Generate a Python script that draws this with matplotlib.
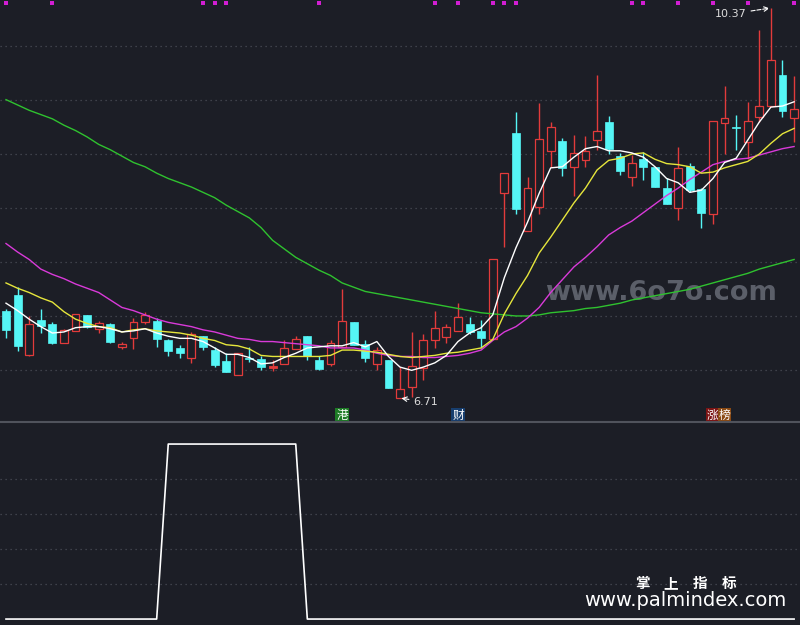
import matplotlib
matplotlib.use("Agg")
import matplotlib.pyplot as plt
from matplotlib.patches import Rectangle
from matplotlib.lines import Line2D
import matplotlib.transforms as mtransforms

plt.rcParams['font.family'] = ['DejaVu Sans', 'Noto Sans CJK SC']

# ---------------- data ----------------
opens = [7.53, 7.68, 7.11, 7.44, 7.40, 7.23, 7.34, 7.49, 7.36, 7.40,
         7.19, 7.27, 7.42, 7.43, 7.25, 7.18, 7.09, 7.29, 7.16, 7.06,
         6.93, 7.09, 7.08, 7.00, 7.03, 7.17, 7.29, 7.07, 7.03, 7.19,
         7.42, 7.22, 7.03, 7.07, 6.71, 6.81, 6.99, 7.25, 7.28, 7.34,
         7.40, 7.34, 7.26, 8.63, 9.20, 8.28, 8.50, 9.03, 9.12, 8.88,
         8.94, 9.13, 9.30, 8.98, 8.78, 8.95, 8.88, 8.68, 8.49, 8.89,
         8.67, 8.44, 9.29, 9.25, 9.11, 9.35, 9.45, 9.74, 9.34]
closes = [7.35, 7.20, 7.40, 7.39, 7.23, 7.35, 7.50, 7.38, 7.41, 7.24,
          7.22, 7.42, 7.49, 7.26, 7.15, 7.13, 7.31, 7.19, 7.02, 6.95,
          7.13, 7.08, 7.00, 7.00, 7.18, 7.26, 7.10, 6.98, 7.23, 7.43,
          7.21, 7.09, 7.16, 6.80, 6.79, 7.01, 7.25, 7.37, 7.38, 7.47,
          7.33, 7.27, 8.01, 8.82, 8.48, 8.68, 9.14, 9.25, 8.87, 9.01,
          9.03, 9.22, 9.05, 8.84, 8.92, 8.88, 8.69, 8.53, 8.87, 8.66,
          8.45, 9.31, 9.34, 9.24, 9.31, 9.45, 9.88, 9.40, 9.42]
highs = [7.55, 7.75, 7.48, 7.55, 7.42, 7.36, 7.50, 7.49, 7.43, 7.41,
         7.24, 7.46, 7.52, 7.46, 7.26, 7.21, 7.33, 7.29, 7.19, 7.13,
         7.13, 7.19, 7.10, 7.07, 7.25, 7.29, 7.29, 7.10, 7.25, 7.73,
         7.42, 7.25, 7.19, 7.07, 7.00, 7.33, 7.31, 7.53, 7.40, 7.60,
         7.47, 7.44, 8.01, 8.82, 9.39, 8.78, 9.48, 9.30, 9.15, 9.18,
         9.17, 9.74, 9.36, 9.01, 8.99, 9.02, 8.88, 8.77, 9.07, 8.92,
         8.68, 9.31, 9.64, 9.37, 9.49, 10.16, 10.37, 9.88, 9.73]
lows = [7.27, 7.15, 7.10, 7.32, 7.22, 7.23, 7.34, 7.37, 7.32, 7.23,
        7.17, 7.17, 7.40, 7.19, 7.10, 7.09, 7.04, 7.16, 7.00, 6.95,
        6.93, 7.05, 6.97, 6.96, 7.03, 7.17, 7.07, 6.97, 7.01, 7.19,
        7.21, 7.05, 6.97, 6.80, 6.71, 6.72, 6.88, 7.18, 7.23, 7.34,
        7.31, 7.18, 7.26, 8.13, 8.44, 8.28, 8.44, 8.88, 8.79, 8.61,
        8.88, 9.04, 9.00, 8.80, 8.70, 8.76, 8.69, 8.53, 8.38, 8.64,
        8.31, 8.34, 9.00, 9.04, 8.95, 9.30, 9.45, 9.35, 9.11]

ma5 = [7.60, 7.53, 7.45, 7.38, 7.32, 7.33, 7.37, 7.38, 7.38, 7.36,
       7.33, 7.34, 7.36, 7.32, 7.29, 7.27, 7.27, 7.24, 7.18, 7.12,
       7.12, 7.09, 7.03, 7.04, 7.09, 7.13, 7.18, 7.19, 7.20, 7.20,
       7.23, 7.19, 7.24, 7.10, 7.00, 6.97, 7.00, 7.04, 7.11, 7.24,
       7.32, 7.37, 7.49, 7.84, 8.12, 8.36, 8.63, 8.87, 8.88, 8.97,
       9.05, 9.07, 9.03, 9.03, 9.01, 8.97, 8.88, 8.77, 8.73, 8.64,
       8.66, 8.77, 8.92, 8.96, 9.13, 9.30, 9.44, 9.45, 9.49]
ma10 = [7.79, 7.74, 7.70, 7.65, 7.61, 7.52, 7.45, 7.41, 7.38, 7.37,
        7.33, 7.35, 7.36, 7.34, 7.33, 7.32, 7.30, 7.27, 7.25, 7.21,
        7.20, 7.17, 7.11, 7.10, 7.10, 7.10, 7.10, 7.10, 7.11, 7.16,
        7.16, 7.15, 7.14, 7.12, 7.10, 7.09, 7.10, 7.11, 7.13, 7.14,
        7.16, 7.18, 7.26, 7.50, 7.69, 7.86, 8.07, 8.22, 8.38, 8.54,
        8.68, 8.85, 8.94, 8.96, 9.00, 9.01, 8.95, 8.91, 8.90, 8.88,
        8.82, 8.83, 8.87, 8.90, 8.93, 9.00, 9.10, 9.19, 9.24]
ma20 = [8.16, 8.08, 8.01, 7.92, 7.87, 7.83, 7.78, 7.74, 7.70, 7.63,
        7.56, 7.53, 7.49, 7.45, 7.42, 7.40, 7.38, 7.35, 7.33, 7.30,
        7.27, 7.26, 7.24, 7.24, 7.23, 7.22, 7.21, 7.20, 7.18, 7.18,
        7.18, 7.16, 7.13, 7.11, 7.10, 7.10, 7.09, 7.09, 7.10, 7.11,
        7.13, 7.16, 7.25, 7.33, 7.38, 7.46, 7.56, 7.70, 7.82, 7.94,
        8.03, 8.13, 8.24, 8.31, 8.37, 8.45, 8.53, 8.61, 8.68, 8.76,
        8.83, 8.90, 8.93, 8.95, 8.96, 8.99, 9.02, 9.05, 9.07]
ma60 = [9.51, 9.46, 9.41, 9.37, 9.33, 9.27, 9.22, 9.16, 9.09, 9.04,
        8.98, 8.92, 8.88, 8.82, 8.77, 8.73, 8.69, 8.64, 8.59, 8.52,
        8.46, 8.40, 8.31, 8.19, 8.11, 8.03, 7.97, 7.91, 7.86, 7.79,
        7.75, 7.71, 7.69, 7.67, 7.65, 7.63, 7.61, 7.59, 7.57, 7.55,
        7.53, 7.51, 7.50, 7.49, 7.48, 7.48, 7.49, 7.51, 7.52, 7.53,
        7.55, 7.56, 7.58, 7.60, 7.63, 7.65, 7.67, 7.69, 7.71, 7.73,
        7.76, 7.79, 7.82, 7.85, 7.88, 7.92, 7.95, 7.98, 8.01]

signal = [0, 0, 0, 0, 0, 0, 0, 0, 0, 0,
          0, 0, 0, 0, 1, 1, 1, 1, 1, 1,
          1, 1, 1, 1, 1, 1, 0, 0, 0, 0,
          0, 0, 0, 0, 0, 0, 0, 0, 0, 0,
          0, 0, 0, 0, 0, 0, 0, 0, 0, 0,
          0, 0, 0, 0, 0, 0, 0, 0, 0, 0,
          0, 0, 0, 0, 0, 0, 0, 0, 0]

marker_idx = [0, 4, 17, 18, 19, 27, 37, 39, 42, 43, 44, 54, 55, 58, 61, 64, 68]

event_idx = [29, 39, 61, 62]
event_text = ['港', '财', '涨', '榜']
event_bg = ['#1d7a25', '#173e6e', '#7c1414', '#8a4a14']

grid_main = [10.014, 9.507, 9.000, 8.493, 7.986, 7.480, 6.973]
grid_sub = [0.2, 0.4, 0.6, 0.8]

brand_chars = ['掌', '上', '指', '标']

# ---------------- style ----------------
BG = '#1c1e26'
RED = '#e23b3b'
CYAN = '#55f6f6'
GRID = '#4a4d57'

fig = plt.figure(figsize=(8, 6.25), dpi=100, facecolor=BG)
ax = fig.add_axes([0, 203 / 625, 1, 422 / 625])
ax2 = fig.add_axes([0, 0, 1, 203 / 625])
for a in (ax, ax2):
    a.set_facecolor(BG)
    for s in a.spines.values():
        s.set_visible(False)
    a.set_xticks([])
    a.set_yticks([])

n = len(opens)
ax.set_xlim(-0.518, 68.51)
ax.set_ylim(6.485, 10.445)
ax2.set_xlim(-0.518, 68.51)
ax2.set_ylim(-0.034, 1.126)

for g in grid_main:
    ax.axhline(g, color=GRID, lw=0.9, ls=(0, (1, 3)), zorder=0)
for g in grid_sub:
    ax2.axhline(g, color=GRID, lw=0.9, ls=(0, (1, 3)), zorder=0)

w = 0.68
LW = 1.0
for i in range(n):
    o, h, l, c = opens[i], highs[i], lows[i], closes[i]
    top, bot = max(o, c), min(o, c)
    if c >= o:
        if top - bot < 0.015:
            ax.vlines(i, l, h, color=RED, lw=LW, zorder=2)
            ax.add_patch(Rectangle((i - w / 2, bot - 0.006), w, 0.012,
                                   facecolor=RED, edgecolor=RED, lw=0.6, zorder=3))
        else:
            if h > top:
                ax.vlines(i, top, h, color=RED, lw=LW, zorder=2)
            if l < bot:
                ax.vlines(i, l, bot, color=RED, lw=LW, zorder=2)
            ax.add_patch(Rectangle((i - w / 2, bot), w, top - bot,
                                   facecolor=BG, edgecolor=RED, lw=0.9, zorder=3))
    else:
        ax.vlines(i, l, h, color=CYAN, lw=LW, zorder=2)
        ax.add_patch(Rectangle((i - w / 2, bot), w, max(top - bot, 0.008),
                               facecolor=CYAN, edgecolor=CYAN, lw=0.5, zorder=3))

xs = list(range(n))
ax.plot(xs, ma60, color='#2fc22f', lw=1.0, zorder=4)
ax.plot(xs, ma20, color='#d93ad9', lw=1.0, zorder=4)
ax.plot(xs, ma10, color='#e6e63c', lw=1.0, zorder=4)
ax.plot(xs, ma5, color='#ffffff', lw=1.0, zorder=5)

# signal markers along the top
trans = mtransforms.blended_transform_factory(ax.transData, ax.transAxes)
ax.scatter(marker_idx, [1 - 2.5 / 422] * len(marker_idx), marker='s', s=10,
           color='#d21ed2', transform=trans, clip_on=False, zorder=6, linewidths=0)

# event labels near the bottom of the main panel
for idx, t, bgc in zip(event_idx, event_text, event_bg):
    ax.text(idx, 1 - 415 / 422, t, transform=trans, ha='center', va='center',
            fontsize=8.5, color='white', family=['Noto Sans CJK SC'],
            bbox=dict(boxstyle='square,pad=0.08', facecolor=bgc, edgecolor='none'),
            zorder=7)

# high / low annotations
hi_i = highs.index(max(highs))
lo_i = lows.index(min(lows))
ax.annotate(f'{max(highs):.2f}', xy=(hi_i, max(highs)), xytext=(-24, -6),
            textcoords='offset pixels', ha='right', va='center', fontsize=8,
            color='#dcdcdc',
            arrowprops=dict(arrowstyle='->', color='white', lw=0.8, ls='--',
                            shrinkA=1, shrinkB=1), zorder=8)
ax.annotate(f'{min(lows):.2f}', xy=(lo_i, min(lows)), xytext=(13, -4),
            textcoords='offset pixels', ha='left', va='center', fontsize=8,
            color='#dcdcdc',
            arrowprops=dict(arrowstyle='->', color='white', lw=0.8,
                            shrinkA=1, shrinkB=1), zorder=8)

# watermark
ax.text(0.826, 1 - 293 / 422, 'www.6o7o.com', transform=ax.transAxes,
        ha='center', va='center', fontsize=19.5, color='#676b76', alpha=0.85,
        fontweight='bold', zorder=1)

# lower panel indicator
ax2.plot(xs, signal, color='white', lw=1.2)

# separator
fig.add_artist(Line2D([0, 1], [203 / 625, 203 / 625], color='#50535c', lw=1.5))

for k, ch in enumerate(brand_chars):
    fig.text((642 + 29 * k) / 800, 1 - 583 / 625, ch, ha='center', va='center',
             fontsize=10.5, color='white', fontweight='bold',
             family=['Noto Sans CJK SC'])
fig.text(685 / 800, 1 - 600 / 625, 'www.palmindex.com', ha='center', va='center',
         fontsize=14, color='white')

fig.savefig('out.png', dpi=100, facecolor=BG)
